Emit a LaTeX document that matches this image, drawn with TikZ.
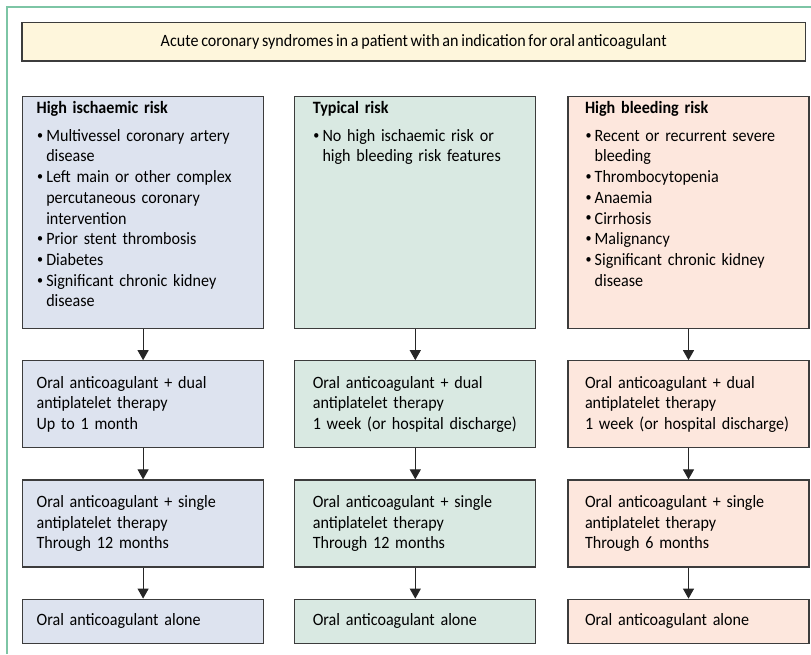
\documentclass[tikz,border=0pt]{standalone}
\usepackage{fontspec}
\setmainfont{Carlito}[FakeStretch=0.93, WordSpace=0.75]
\usepackage{tikz}
\usetikzlibrary{arrows.meta, positioning}
\definecolor{framegreen}{HTML}{7DC5A5}
\definecolor{boxline}{HTML}{3C3C3C}
\definecolor{acsfill}{HTML}{FEF6DC}
\definecolor{ischfill}{HTML}{DDE3EF}
\definecolor{typfill}{HTML}{D9E9E2}
\definecolor{bleedfill}{HTML}{FDE7DD}
\newcommand{\riskitem}[1]{\par\noindent\hangindent=9.7pt\hangafter=1\makebox[9.7pt][l]{\hspace{0.6pt}\raisebox{0.25ex}{\scalebox{0.75}{•}}}#1}
\newcommand{\boxfont}{\fontsize{17.3}{20.7}\selectfont\hyphenpenalty=10000\exhyphenpenalty=10000\relax}
\tikzset{
    box/.style={rectangle, draw=boxline, line width=1.2pt, align=left, minimum width=241pt, inner ysep=0pt},
    ischbox/.style={box, fill=ischfill, inner xsep=14pt, text width=213pt},
    typbox/.style={box, fill=typfill, inner xsep=18pt, text width=205pt},
    bleedbox/.style={box, fill=bleedfill, inner xsep=17pt, text width=207pt},
    arrow/.style={line width=1.1pt, draw=black!85, -{Triangle[length=10pt, width=11pt]}}
}

\begin{document}
\begin{tikzpicture}[
    x=1pt, y=1pt,
    every node/.style={font=\boxfont},
    riskrow/.style={minimum height=232pt},
    steprow/.style={minimum height=87pt},
    alonerow/.style={minimum height=44pt}
]
    \useasboundingbox (0,0) rectangle (811,654);

    % Outer frame
    \draw [framegreen, line width=1.6pt] (6.7,0) -- (6.7,646.7) -- (811,646.7);

    % Indication banner
    \node (acs) [box, fill=acsfill, minimum width=783.5pt, minimum height=38.5pt, align=center] at (413.75,612.25)
        {Acute coronary syndromes in a patient with an indication for oral anticoagulant};

    % Risk profiles
    \node (ischrisk) [ischbox, riskrow, anchor=north west] at (22,558) {\vbox to 222pt{
        \textbf{High ischaemic risk}\par\vspace{6.8pt}
        \riskitem{Multivessel coronary artery disease}
        \riskitem{Left main or other complex percutaneous coronary intervention}
        \riskitem{Prior stent thrombosis}
        \riskitem{Diabetes}
        \riskitem{Significant chronic kidney disease}
        \vfil}};
    \node (typrisk) [typbox, riskrow, right=30pt of ischrisk] {\vbox to 222pt{
        \textbf{Typical risk}\par\vspace{6.8pt}
        \riskitem{No high ischaemic risk or high bleeding risk features}
        \vfil}};
    \node (bleedrisk) [bleedbox, riskrow, right=31pt of typrisk] {\vbox to 222pt{
        \textbf{High bleeding risk}\par\vspace{6.8pt}
        \riskitem{Recent or recurrent severe bleeding}
        \riskitem{Thrombocytopenia}
        \riskitem{Anaemia}
        \riskitem{Cirrhosis}
        \riskitem{Malignancy}
        \riskitem{Significant chronic kidney disease}
        \vfil}};

    % Triple therapy
    \node (ischdual) [ischbox, steprow, below=31pt of ischrisk]
        {Oral anticoagulant + dual\\antiplatelet therapy\\Up to 1 month};
    \node (typdual) [typbox, steprow, below=31pt of typrisk]
        {Oral anticoagulant + dual\\antiplatelet therapy\\1 week (or hospital discharge)};
    \node (bleeddual) [bleedbox, steprow, below=31pt of bleedrisk]
        {Oral anticoagulant + dual\\antiplatelet therapy\\1 week (or hospital discharge)};

    % Dual therapy
    \node (ischsingle) [ischbox, steprow, below=31pt of ischdual]
        {Oral anticoagulant + single\\antiplatelet therapy\\Through 12 months};
    \node (typsingle) [typbox, steprow, below=31pt of typdual]
        {Oral anticoagulant + single\\antiplatelet therapy\\Through 12 months};
    \node (bleedsingle) [bleedbox, steprow, below=31pt of bleeddual]
        {Oral anticoagulant + single\\antiplatelet therapy\\Through 6 months};

    % Anticoagulant only
    \node (ischalone) [ischbox, alonerow, below=31pt of ischsingle] {Oral anticoagulant alone};
    \node (typalone) [typbox, alonerow, below=31pt of typsingle] {Oral anticoagulant alone};
    \node (bleedalone) [bleedbox, alonerow, below=31pt of bleedsingle] {Oral anticoagulant alone};

    % Arrows
    \draw [arrow] (ischrisk) -- (ischdual);
    \draw [arrow] (ischdual) -- (ischsingle);
    \draw [arrow] (ischsingle) -- (ischalone);
    \draw [arrow] (typrisk) -- (typdual);
    \draw [arrow] (typdual) -- (typsingle);
    \draw [arrow] (typsingle) -- (typalone);
    \draw [arrow] (bleedrisk) -- (bleeddual);
    \draw [arrow] (bleeddual) -- (bleedsingle);
    \draw [arrow] (bleedsingle) -- (bleedalone);
\end{tikzpicture}
\end{document}
